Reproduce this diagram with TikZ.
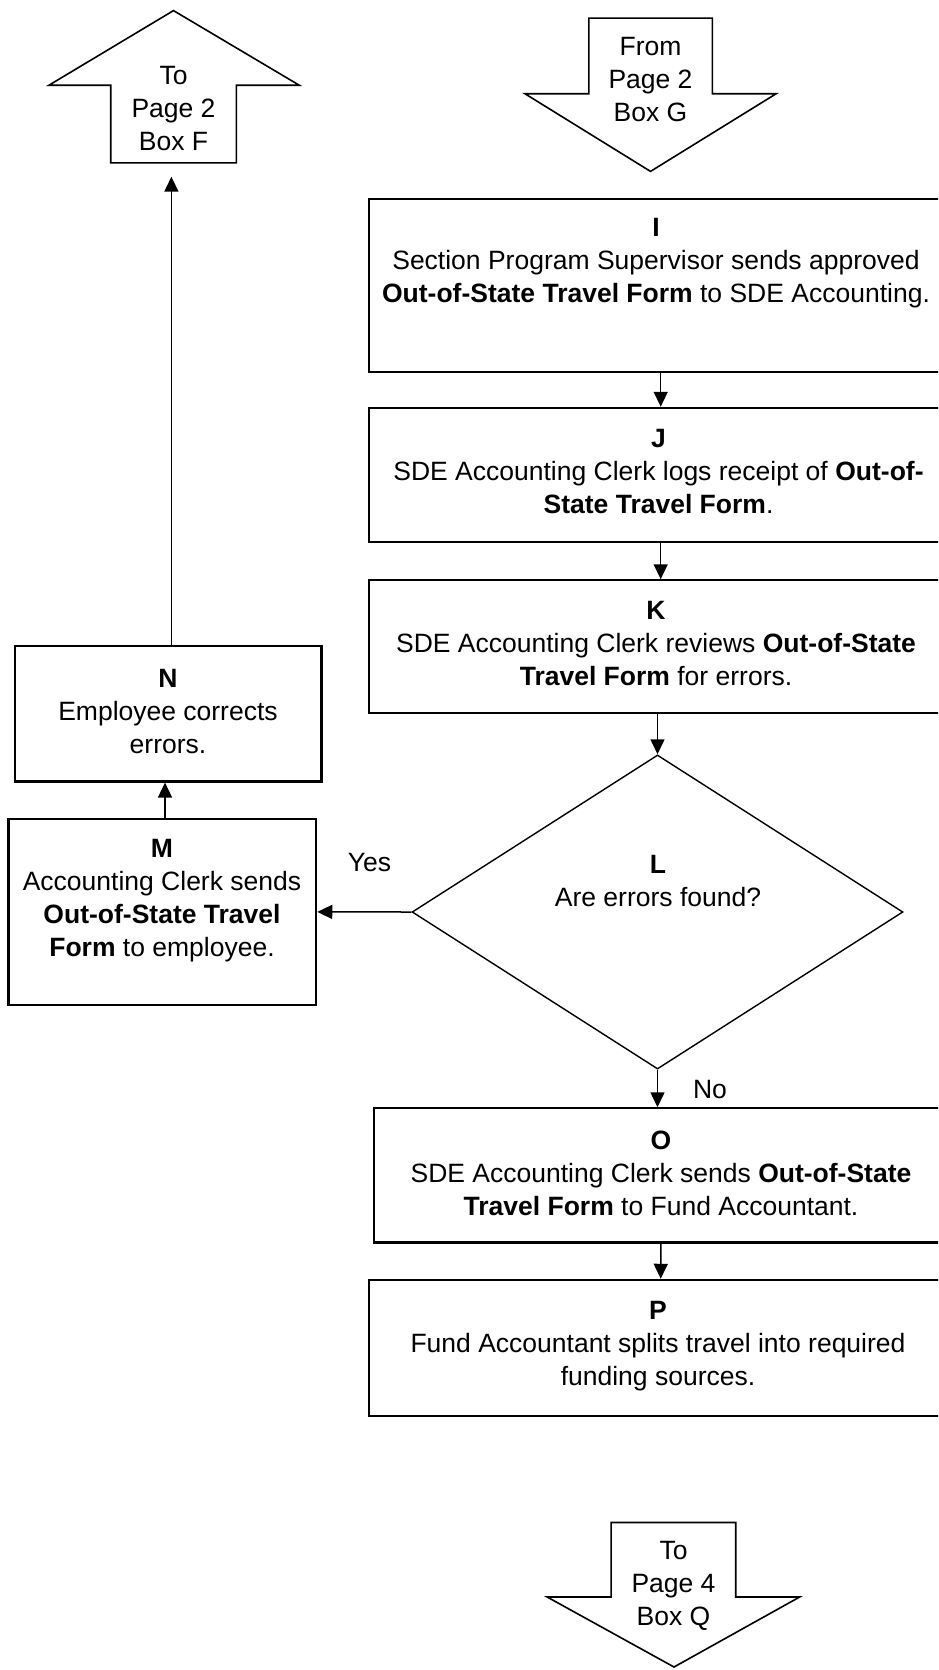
\documentclass[tikz,border=0pt]{standalone}
\usepackage{fontspec}
\setmainfont{Liberation Sans}
\usetikzlibrary{arrows.meta,shapes.geometric}
\begin{document}
\begin{tikzpicture}[x=1pt,y=-1pt,
  box/.style={draw, line width=2.1pt, rectangle, inner sep=0pt},
  txt/.style={align=center, font=\fontsize{26.5}{33}\selectfont, inner sep=0pt},
  conn/.style={line width=1.5pt, -{Triangle[length=15pt,width=14pt]}},
  blockarrow/.style={draw, line width=1.6pt, line join=miter},
]
\useasboundingbox (0,0) rectangle (938,1670);
\clip (0,0) rectangle (938,1670);

% off-page connector arrows
\draw[blockarrow] (110.7,162.9) -- (110.7,85.2) -- (49,85.2) -- (173.5,10.6) -- (299.2,85.2) -- (236.4,85.2) -- (236.4,162.9) -- cycle;
\draw[blockarrow] (588.8,18.1) -- (712.3,18.1) -- (712.3,93.7) -- (776.2,93.7) -- (650.5,171.4) -- (524.9,93.7) -- (588.8,93.7) -- cycle;
\draw[blockarrow] (611.1,1522.5) -- (735.7,1522.5) -- (735.7,1597) -- (799.6,1597) -- (674,1667) -- (547.2,1597) -- (611.1,1597) -- cycle;
\node[txt] (tF) at (173.5,108.5) {To\\Page 2\\Box F};
\node[txt] (tG) at (650.5,79.5) {From\\Page 2\\Box G};
\node[txt] (tQ) at (673.5,1585.5) {To\\Page 4\\Box Q};

% boxes
\node[box, minimum width=582.6pt, minimum height=172.5pt] (I) at (660.7,285.35) {};
\node[box, minimum width=582.6pt, minimum height=134.1pt] (J) at (660.7,474.85) {};
\node[box, minimum width=582.6pt, minimum height=133pt] (K) at (660.7,646.8) {};
\node[draw, diamond, line width=1.4pt, inner sep=0pt, minimum width=490.9pt, minimum height=314.1pt] (L) at (657.5,912) {};
\node[box, minimum width=307.7pt, minimum height=186.2pt] (M) at (162.35,911.9) {};
\node[box, minimum width=306.6pt, minimum height=135.2pt] (N) at (168.2,713.9) {};
\node[box, minimum width=574.3pt, minimum height=134.2pt] (O) at (660.85,1175.4) {};
\node[box, minimum width=582.6pt, minimum height=136.2pt] (P) at (660.7,1347.9) {};

% texts
\node[txt] (tI) at (656,263.5) {\textbf{I}\\Section Program Supervisor sends approved\\\textbf{Out-of-State Travel Form} to SDE Accounting.};
\node[txt] (tJ) at (658.5,471.5) {\textbf{J}\\SDE Accounting Clerk logs receipt of \textbf{Out-of-}\\\textbf{State Travel Form}.};
\node[txt] (tK) at (656,643.5) {\textbf{K}\\SDE Accounting Clerk reviews \textbf{Out-of-State}\\\textbf{Travel Form} for errors.};
\node[txt] (tL) at (658,881.5) {\textbf{L}\\Are errors found?};
\node[txt] (tM) at (162,900.5) {\textbf{M}\\Accounting Clerk sends\\\textbf{Out-of-State Travel}\\\textbf{Form} to employee.};
\node[txt] (tN) at (168,711.5) {\textbf{N}\\Employee corrects\\errors.};
\node[txt] (tO) at (661,1173.5) {\textbf{O}\\SDE Accounting Clerk sends \textbf{Out-of-State}\\\textbf{Travel Form} to Fund Accountant.};
\node[txt] (tP) at (658,1346.5) {\textbf{P}\\Fund Accountant splits travel into required\\funding sources.};
\node[txt] (yes) at (369.4,862.5) {Yes};
\node[txt] (no) at (710,1089.5) {No};

% connectors
\coordinate (mn) at (165,0);
\coordinate (fb) at (171.4,176.7);
\draw[conn] (I.south) -- (J.north);
\draw[conn] (J.south) -- (K.north);
\draw[conn] (K.south -| L.north) -- (L.north);
\draw[conn] (L.west) -- (M.east);
\draw[conn] (L.south) -- (L.south |- O.north);
\draw[conn] (O.south) -- (P.north);
\draw[conn] (M.north -| mn) -- (N.south -| mn);
\draw[conn] (N.north -| fb) -- (fb);
\end{tikzpicture}
\end{document}
